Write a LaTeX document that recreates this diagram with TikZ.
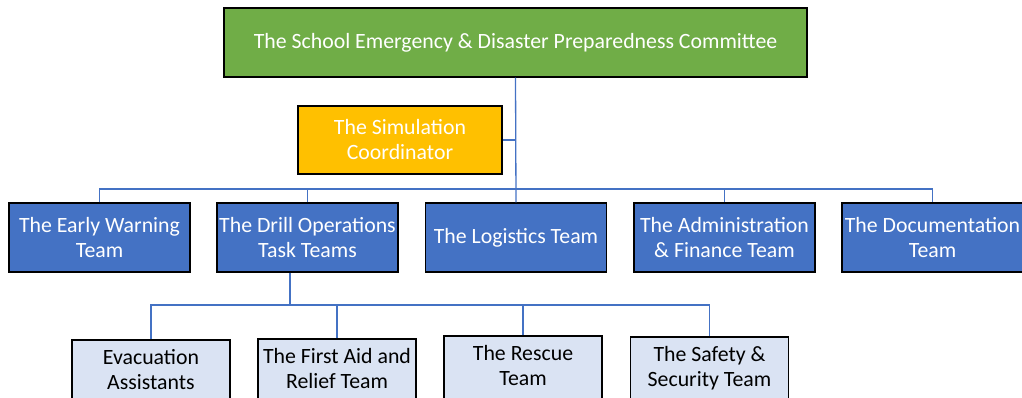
\documentclass[tikz,border=0pt]{standalone}
\usepackage{fontspec}
\setmainfont{Carlito}
\usepackage{tikz}
\definecolor{cmtGreen}{HTML}{70AD47}
\definecolor{simGold}{HTML}{FFC000}
\definecolor{teamBlue}{HTML}{4472C4}
\definecolor{subBlue}{HTML}{DAE3F3}
\definecolor{lineBlue}{HTML}{4472C4}

\begin{document}
\begin{tikzpicture}[
x=1pt,y=-1pt,
box/.style={draw=black,line width=1.3pt,align=center,inner sep=0pt,
  font=\fontsize{21.8}{25}\selectfont},
committee/.style={box,fill=cmtGreen,text=white,minimum width=583,minimum height=69},
simulation/.style={box,fill=simGold,text=white,minimum width=204,minimum height=68},
team/.style={box,fill=teamBlue,text=white,minimum width=181,minimum height=69},
subteam/.style={box,fill=subBlue,text=black,minimum width=158,minimum height=68,
  text height=40pt,text depth=9pt},
link/.style={draw=lineBlue,line width=1.3pt},
]
\useasboundingbox (0,0) rectangle (1022,398);
% top level
\node[committee] (cmt) at (515.5,42.5) {The School Emergency \& Disaster Preparedness Committee};
\node[simulation] (sim) at (400,140) {The Simulation\\Coordinator};
% teams
\node[team] (early) at (99.5,237.5) {The Early Warning\\Team};
\node[team] (drill) at (307.5,237.5) {The Drill Operations\\Task Teams};
\node[team] (logistics) at (516,237.5) {The Logistics Team};
\node[team] (admin) at (724.5,237.5) {The Administration\\\& Finance Team};
\node[team] (docu) at (932.5,237.5) {The Documentation\\Team};
% drill sub teams
\node[subteam] (evac) at (151,374) {Evacuation\\Assistants};
\node[subteam] (aid) at (337,373) {The First Aid and\\Relief Team};
\node[subteam] (rescue) at (523,370) {The Rescue\\Team};
\node[subteam] (safety) at (709.5,371) {The Safety \&\\Security Team};
% connectors
\coordinate (bus) at (516,189);
\coordinate (subbus) at (290,305);
\path[link] (cmt.south) -- (logistics.north);
\path[link] (sim.east) -- (sim.east -| cmt.south);
\path[link] (early.north) |- (bus) -| (docu.north);
\path[link] (drill.north) -- (drill.north |- bus);
\path[link] (admin.north) -- (admin.north |- bus);
\path[link] (drill.south -| subbus) -- (subbus);
\path[link] (evac.north) |- (subbus) -| (safety.north);
\path[link] (aid.north) -- (aid.north |- subbus);
\path[link] (rescue.north) -- (rescue.north |- subbus);
\end{tikzpicture}
\end{document}
